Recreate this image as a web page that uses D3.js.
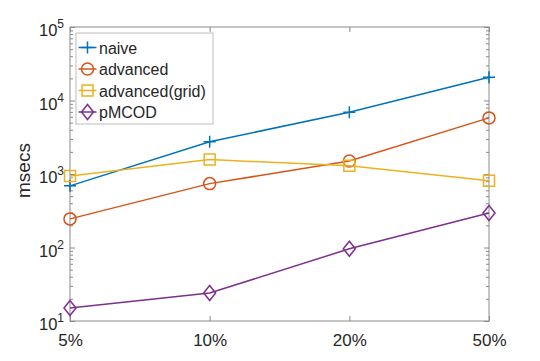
<!DOCTYPE html>
<html>
<head>
<meta charset="utf-8">
<script src="https://cdn.jsdelivr.net/npm/d3@7"></script>
<style>
  body { margin: 0; background: #fff; }
  text { font-family: "Liberation Sans", Arial, sans-serif; }
</style>
</head>
<body>
<div class="canvas"></div>
<script>
const categories = ['5%', '10%', '20%', '50%']
const naive = [690, 2750, 6900, 20700]
const advanced = [245, 740, 1500, 5800]
const advancedGrid = [940, 1570, 1290, 810]
const pmcod = [15, 24, 96, 295]
const yTicks = [1e1, 1e2, 1e3, 1e4, 1e5]

const series = [
    { name: 'naive', values: naive, color: '#0072BD', marker: 'plus' },
    { name: 'advanced', values: advanced, color: '#D95319', marker: 'circle' },
    { name: 'advanced(grid)', values: advancedGrid, color: '#EDB120', marker: 'square' },
    { name: 'pMCOD', values: pmcod, color: '#7E2F8E', marker: 'diamond' }
]

const W = 540, H = 361
const margins = { top: 27, right: 51, bottom: 40, left: 70 }
const gWidth = W - margins.left - margins.right
const gHeight = H - margins.top - margins.bottom

const svg = d3.select('.canvas').append('svg').attr('width', W).attr('height', H)
const graph = svg.append('g').attr('transform', `translate(${margins.left}, ${margins.top})`)

const x = d3.scalePoint().domain(categories).range([0, gWidth])
const y = d3.scaleLog().domain([10, 1e5]).range([gHeight, 0])

// minor ticks 2..9 per decade
const minorTicks = []
for (let e = 1; e < 5; e++) for (let m = 2; m < 10; m++) minorTicks.push(m * Math.pow(10, e))

const axisCol = '#8a8a8a'
const textCol = '#262626'

// box
graph.append('rect').attr('width', gWidth).attr('height', gHeight)
    .attr('fill', 'none').attr('stroke', axisCol).attr('stroke-width', 1)

const styleAxis = g => {
    g.select('.domain').remove()
    g.selectAll('line').attr('stroke', axisCol)
}

// left/right minor ticks
graph.append('g').call(d3.axisLeft(y).tickValues(minorTicks).tickSize(-3).tickFormat('')).call(styleAxis)
graph.append('g').attr('transform', `translate(${gWidth},0)`)
    .call(d3.axisRight(y).tickValues(minorTicks).tickSize(-3).tickFormat('')).call(styleAxis)
// left/right major ticks
graph.append('g')
    .call(d3.axisLeft(y).tickValues(yTicks).tickSize(-5).tickFormat(''))
    .call(styleAxis)
graph.append('g').attr('transform', `translate(${gWidth},0)`)
    .call(d3.axisRight(y).tickValues(yTicks).tickSize(-5).tickFormat('')).call(styleAxis)

// y tick labels as 10^n
yTicks.forEach(v => {
    const t = graph.append('text')
        .attr('x', -6).attr('y', y(v) + 9)
        .attr('text-anchor', 'end').attr('fill', textCol).style('font-size', '16.5px')
    t.append('tspan').text('10')
    t.append('tspan').attr('dy', -8).style('font-size', '12px').text(Math.round(Math.log10(v)))
})

// x axes
graph.append('g').attr('transform', `translate(0,${gHeight})`)
    .call(d3.axisBottom(x).tickSize(-5).tickPadding(13))
    .call(styleAxis)
    .selectAll('text').attr('fill', textCol).style('font-size', '17px')
    .style('font-family', '"Liberation Sans", Arial, sans-serif')
graph.append('g')
    .call(d3.axisTop(x).tickSize(-5).tickFormat(''))
    .call(styleAxis)

// y label
svg.append('text')
    .attr('transform', `translate(30, 170.5) rotate(-90)`)
    .attr('text-anchor', 'middle').attr('fill', textCol).style('font-size', '19px')
    .text('msecs')

const markerPath = (type) => {
    if (type === 'plus') return 'M-6,0H6M0,-6V6'
    if (type === 'circle') return 'M6,0A6,6,0,1,1,-6,0A6,6,0,1,1,6,0Z'
    if (type === 'square') return 'M-5.5,-5.5H5.5V5.5H-5.5Z'
    return 'M0,-7.5L6,0L0,7.5L-6,0Z'
}

const line = d3.line().x((d, i) => x(categories[i])).y(d => y(d))

series.forEach(s => {
    graph.append('path').datum(s.values)
        .attr('d', line).attr('fill', 'none')
        .attr('stroke', s.color).attr('stroke-width', 1.5)
    graph.selectAll(null).data(s.values).enter().append('path')
        .attr('transform', (d, i) => `translate(${x(categories[i])},${y(d)})`)
        .attr('d', markerPath(s.marker))
        .attr('fill', 'none').attr('stroke', s.color).attr('stroke-width', 1.5)
})

// legend
const legend = svg.append('g').attr('transform', 'translate(76, 33)')
legend.append('rect').attr('width', 137).attr('height', 91)
    .attr('fill', '#fff').attr('stroke', '#bdbdbd').attr('stroke-width', 1)
series.forEach((s, i) => {
    const row = legend.append('g').attr('transform', `translate(0, ${14.5 + i * 21.5})`)
    row.append('line').attr('x1', 2.5).attr('x2', 20.5).attr('stroke', s.color).attr('stroke-width', 1.5)
    row.append('path').attr('transform', 'translate(11.5,0)')
        .attr('d', markerPath(s.marker))
        .attr('fill', 'none').attr('stroke', s.color).attr('stroke-width', 1.5)
    row.append('text').attr('x', 23).attr('y', 6).attr('fill', textCol)
        .style('font-size', '16px').text(s.name)
})
</script>
</body>
</html>
